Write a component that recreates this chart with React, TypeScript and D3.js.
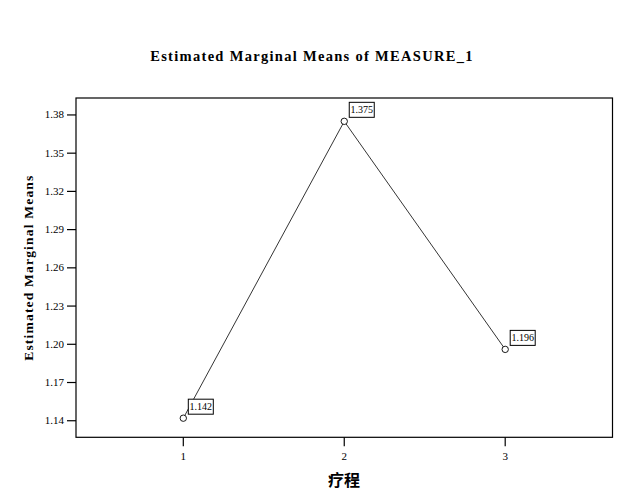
import React from "react";
import * as d3 from "d3";

const categories = [1, 2, 3];
const means = [1.142, 1.375, 1.196];
const meanLabels = ["1.142", "1.375", "1.196"];
const yTicks = [1.14, 1.17, 1.2, 1.23, 1.26, 1.29, 1.32, 1.35, 1.38];

export default function App() {
  const W = 626, H = 504;
  const left = 76, right = 612.5, top = 98, bottom = 437.3;
  const x = d3.scaleLinear().domain([1 / 3, 11 / 3]).range([left, right]);
  const y = d3.scaleLinear().domain([1.127, 1.3933]).range([bottom, top]);
  const line = d3.line<number>().x((_, i) => x(categories[i])).y((d) => y(d));
  const serif = "'Liberation Serif', 'DejaVu Serif', serif";
  return (
    <svg width={W} height={H} style={{ position: "absolute", left: 0, top: 0, background: "#fff" }}>
      <rect x={0} y={0} width={W} height={H} fill="#fff" />
      <text x={312} y={61} textAnchor="middle" fontFamily={serif} fontWeight="bold" fontSize={14.5} letterSpacing={1.3}>
        Estimated Marginal Means of MEASURE_1
      </text>
      <rect x={left} y={top} width={right - left} height={bottom - top} fill="none" stroke="#000" strokeWidth={1.2} />
      {yTicks.map((t) => (
        <g key={t}>
          <line x1={left - 9} x2={left} y1={y(t)} y2={y(t)} stroke="#000" strokeWidth={1.2} />
          <text x={left - 12} y={y(t) + 3.5} textAnchor="end" fontFamily={serif} fontSize={11}>
            {t.toFixed(2)}
          </text>
        </g>
      ))}
      {categories.map((c) => (
        <g key={c}>
          <line x1={x(c)} x2={x(c)} y1={bottom} y2={bottom + 9} stroke="#000" strokeWidth={1.2} />
          <text x={x(c)} y={bottom + 23} textAnchor="middle" fontFamily={serif} fontSize={11}>
            {c}
          </text>
        </g>
      ))}
      <text
        transform={`translate(33,${(top + bottom) / 2}) rotate(-90)`}
        textAnchor="middle"
        fontFamily={serif}
        fontWeight="bold"
        fontSize={13.5}
        letterSpacing={1.2}
      >
        Estimated Marginal Means
      </text>
      <text x={344} y={486} textAnchor="middle" fontFamily="'Noto Sans CJK SC', sans-serif" fontWeight="bold" fontSize={16}>
        疗程
      </text>
      <path d={line(means) || ""} fill="none" stroke="#000" strokeWidth={0.8} />
      {means.map((m, i) => {
        const px = x(categories[i]);
        const py = y(m);
        const bx = px + 5;
        const by = py - 4 - 15;
        return (
          <g key={i}>
            <circle cx={px} cy={py} r={3.2} fill="#fff" stroke="#000" strokeWidth={0.9} />
            <rect x={bx} y={by} width={25} height={15} fill="#fff" stroke="#000" strokeWidth={1} />
            <text x={bx + 12.5} y={by + 11} textAnchor="middle" fontFamily={serif} fontSize={10}>
              {meanLabels[i]}
            </text>
          </g>
        );
      })}
    </svg>
  );
}
